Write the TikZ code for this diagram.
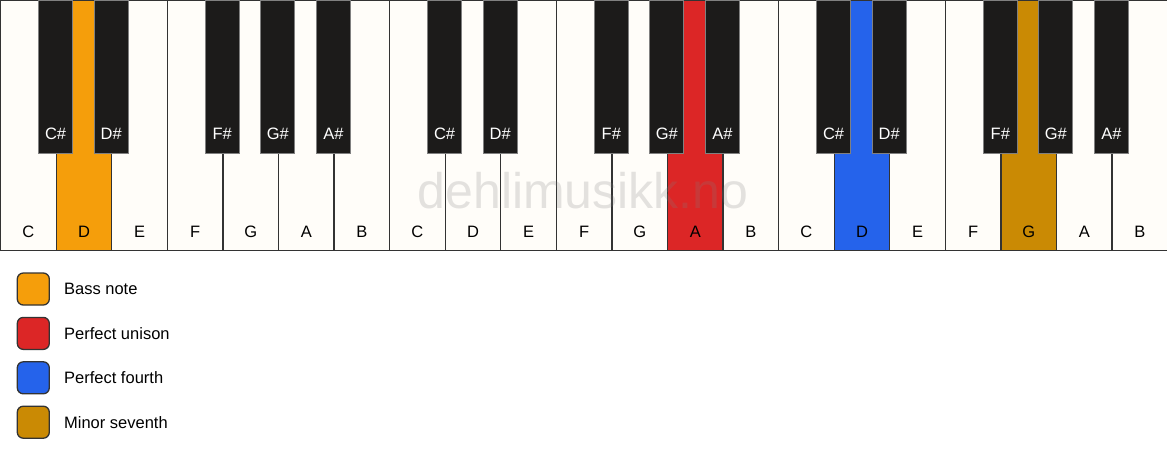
\documentclass[tikz,border=0pt]{standalone}
\usepackage{fontspec}
\setmainfont{Liberation Sans}
\usetikzlibrary{positioning}
\definecolor{keywhite}{HTML}{FFFDF9}
\definecolor{keyblack}{HTML}{1C1B1A}
\definecolor{keyline}{HTML}{333333}
\definecolor{bassorange}{HTML}{F59E0B}
\definecolor{unisonred}{HTML}{DC2626}
\definecolor{fourthblue}{HTML}{2563EB}
\definecolor{seventhgold}{HTML}{CA8A04}
\tikzset{
  keytext/.style={anchor=base, yshift=14pt, font=\fontsize{16.5}{19}\selectfont},
  blacktext/.style={keytext, text=white},
  whitekey/.style={draw=keyline, line width=1.3pt, fill=keywhite, minimum width=55.57pt,
    minimum height=250pt, inner sep=0pt, anchor=north west},
  blackkey/.style={draw=gray, line width=0.8pt, fill=keyblack, minimum width=34pt,
    minimum height=153pt, inner sep=0pt, anchor=north},
  legendbox/.style={draw=keyline, line width=1.3pt, rounded corners=6pt, minimum size=32pt, inner sep=0pt},
  legendtext/.style={anchor=west, inner sep=0pt, text height=11.8pt, text depth=0pt,
    font=\fontsize{16.5}{19}\selectfont},
  watermark/.style={anchor=base, text=gray, text opacity=0.22, font=\fontsize{50}{58}\selectfont}
}
\begin{document}
\begin{tikzpicture}[x=1pt,y=-1pt]
        \useasboundingbox (0,0) rectangle (1167,461);
        % White keys, three octaves
        \node[whitekey, label={[keytext]south:C}] (c1) at (0,0) {};
        \node[whitekey, fill=bassorange, label={[keytext]south:D}] (d1) at (55.57,0) {};
        \node[whitekey, label={[keytext]south:E}] (e1) at (111.14,0) {};
        \node[whitekey, label={[keytext]south:F}] (f1) at (166.71,0) {};
        \node[whitekey, label={[keytext]south:G}] (g1) at (222.29,0) {};
        \node[whitekey, label={[keytext]south:A}] (a1) at (277.86,0) {};
        \node[whitekey, label={[keytext]south:B}] (b1) at (333.43,0) {};
        \node[whitekey, label={[keytext]south:C}] (c2) at (389.00,0) {};
        \node[whitekey, label={[keytext]south:D}] (d2) at (444.57,0) {};
        \node[whitekey, label={[keytext]south:E}] (e2) at (500.14,0) {};
        \node[whitekey, label={[keytext]south:F}] (f2) at (555.71,0) {};
        \node[whitekey, label={[keytext]south:G}] (g2) at (611.29,0) {};
        \node[whitekey, fill=unisonred, label={[keytext]south:A}] (a2) at (666.86,0) {};
        \node[whitekey, label={[keytext]south:B}] (b2) at (722.43,0) {};
        \node[whitekey, label={[keytext]south:C}] (c3) at (778.00,0) {};
        \node[whitekey, fill=fourthblue, label={[keytext]south:D}] (d3) at (833.57,0) {};
        \node[whitekey, label={[keytext]south:E}] (e3) at (889.14,0) {};
        \node[whitekey, label={[keytext]south:F}] (f3) at (944.71,0) {};
        \node[whitekey, fill=seventhgold, label={[keytext]south:G}] (g3) at (1000.29,0) {};
        \node[whitekey, label={[keytext]south:A}] (a3) at (1055.86,0) {};
        \node[whitekey, label={[keytext]south:B}] (b3) at (1111.43,0) {};

        % Watermark
        \node[watermark] (mark) at (583,208) {dehlimusikk.no};

        % Black keys
        \node[blackkey, label={[blacktext]south:C\#}] (cs1) at (55.57,0) {};
        \node[blackkey, label={[blacktext]south:D\#}] (ds1) at (111.14,0) {};
        \node[blackkey, label={[blacktext]south:F\#}] (fs1) at (222.29,0) {};
        \node[blackkey, label={[blacktext]south:G\#}] (gs1) at (277.86,0) {};
        \node[blackkey, label={[blacktext]south:A\#}] (as1) at (333.43,0) {};
        \node[blackkey, label={[blacktext]south:C\#}] (cs2) at (444.57,0) {};
        \node[blackkey, label={[blacktext]south:D\#}] (ds2) at (500.14,0) {};
        \node[blackkey, label={[blacktext]south:F\#}] (fs2) at (611.29,0) {};
        \node[blackkey, label={[blacktext]south:G\#}] (gs2) at (666.86,0) {};
        \node[blackkey, label={[blacktext]south:A\#}] (as2) at (722.43,0) {};
        \node[blackkey, label={[blacktext]south:C\#}] (cs3) at (833.57,0) {};
        \node[blackkey, label={[blacktext]south:D\#}] (ds3) at (889.14,0) {};
        \node[blackkey, label={[blacktext]south:F\#}] (fs3) at (1000.29,0) {};
        \node[blackkey, label={[blacktext]south:G\#}] (gs3) at (1055.86,0) {};
        \node[blackkey, label={[blacktext]south:A\#}] (as3) at (1111.43,0) {};

        % Legend
        \node[legendbox, fill=bassorange] (bass) at (33.3,289) {};
        \node[legendtext, right=14pt of bass] (basstext) {Bass note};
        \node[legendbox, fill=unisonred] (unison) at (33.3,333.4) {};
        \node[legendtext, right=14pt of unison] (unisontext) {Perfect unison};
        \node[legendbox, fill=fourthblue] (fourth) at (33.3,377.8) {};
        \node[legendtext, right=14pt of fourth] (fourthtext) {Perfect fourth};
        \node[legendbox, fill=seventhgold] (seventh) at (33.3,422.2) {};
        \node[legendtext, right=14pt of seventh] (seventhtext) {Minor seventh};
    \end{tikzpicture}
\end{document}
